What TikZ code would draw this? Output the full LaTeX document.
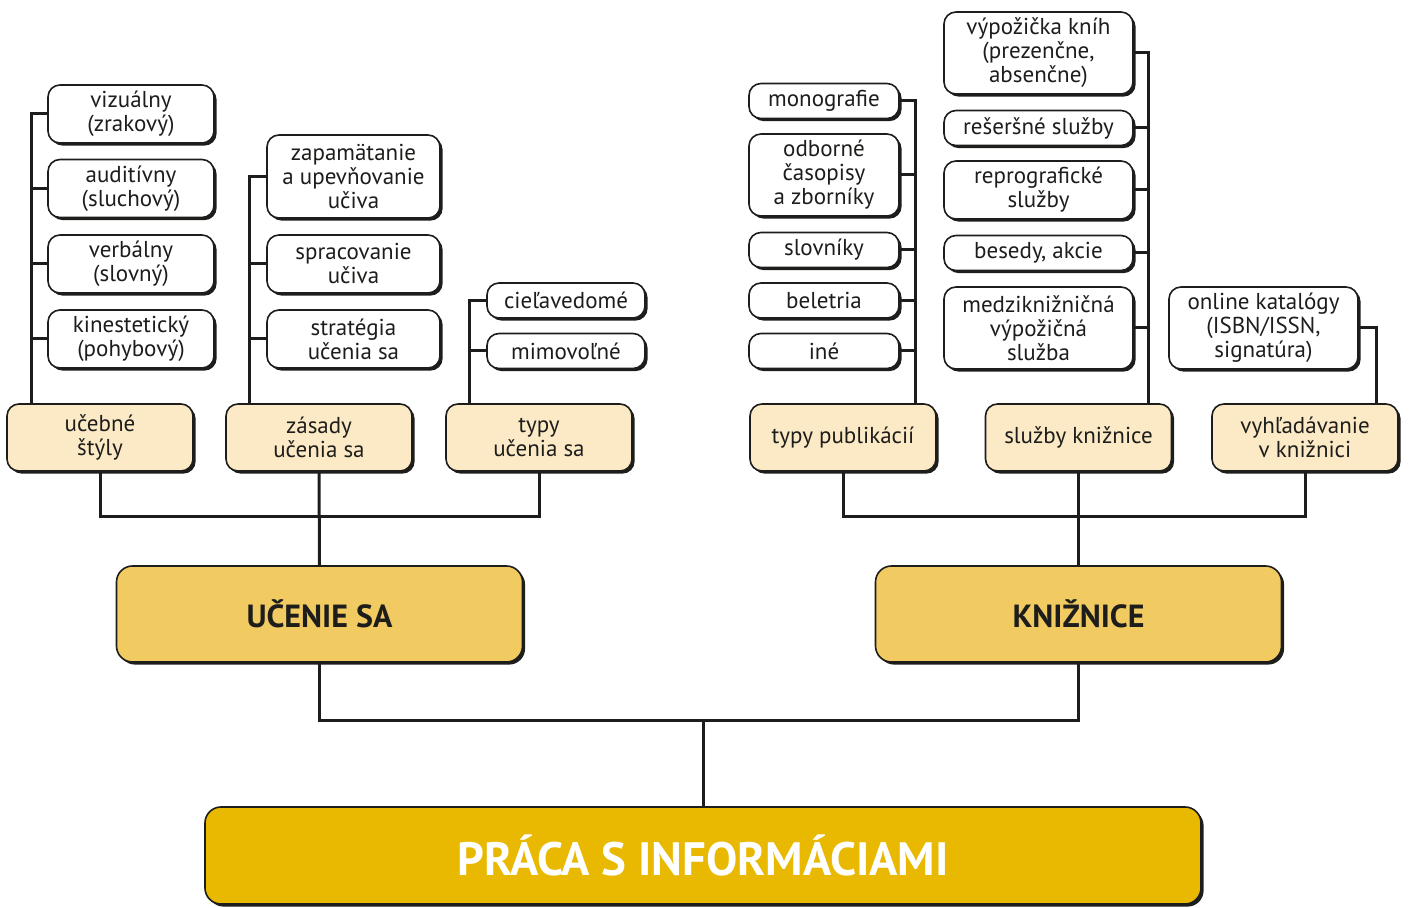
\documentclass[tikz,border=0pt]{standalone}
\usepackage{fontspec}
\setmainfont{PT Sans}
\usetikzlibrary{%
  shadows,% drop shadow
  positioning,%
  calc%
}
\definecolor{txt}{HTML}{1D1D1B}
\definecolor{cream}{HTML}{FCEAC6}
\definecolor{gold}{HTML}{F1CB62}
\definecolor{amber}{HTML}{E9B800}

\begin{document}
\begin{tikzpicture}[
  x=0.5pt, y=-0.5pt,
  font=\fontsize{11.5}{12}\selectfont,
  text=txt,
  line width=1.5pt,
  box/.style={draw=txt, line width=0.8pt, rounded corners=6pt, align=center,
    inner sep=1pt,
    drop shadow={shadow xshift=1.3pt, shadow yshift=-1.3pt, fill=txt, opacity=1}},
  leaf/.style={box, fill=white},
  cat/.style={box, fill=cream, minimum width=93pt, minimum height=33.5pt},
  main/.style={box, fill=gold, rounded corners=8pt, minimum width=203pt,
    minimum height=48pt, font=\fontsize{16}{18}\selectfont\bfseries},
  root/.style={box, fill=amber, rounded corners=8pt, minimum width=498pt,
    minimum height=48.5pt, text=white, font=\fontsize{23.4}{26}\selectfont\bfseries},
  link/.style={draw=txt, line width=1.5pt},
]
\useasboundingbox (0,0) rectangle (1410,908);

% learning styles
\node[leaf, minimum width=83pt, minimum height=29pt] (viz) at (131,114) {vizuálny\\(zrakový)};
\node[leaf, minimum width=83pt, minimum height=29pt] (aud) at (131,188.5) {auditívny\\(sluchový)};
\node[leaf, minimum width=83pt, minimum height=29pt] (verb) at (131,264) {verbálny\\(slovný)};
\node[leaf, minimum width=83pt, minimum height=29pt] (kin) at (131,339) {kinestetický\\(pohybový)};

% principles
\node[leaf, minimum width=86.5pt, minimum height=41.5pt] (zap) at (353.5,176.5) {zapamätanie\\a upevňovanie\\učiva};
\node[leaf, minimum width=86.5pt, minimum height=29pt] (spr) at (353.5,264) {spracovanie\\učiva};
\node[leaf, minimum width=86.5pt, minimum height=29pt] (strat) at (353.5,339) {stratégia\\učenia sa};

% types of learning
\node[leaf, minimum width=79pt, minimum height=17.5pt] (ciel) at (566,300.5) {cieľavedomé};
\node[leaf, minimum width=79pt, minimum height=17.5pt] (mimo) at (566,351) {mimovoľné};

% publications
\node[leaf, minimum width=75pt, minimum height=17.5pt] (mono) at (824,101) {monografie};
\node[leaf, minimum width=75pt, minimum height=41pt] (odb) at (824,175) {odborné\\časopisy\\a zborníky};
\node[leaf, minimum width=75pt, minimum height=17.5pt] (slov) at (824,250) {slovníky};
\node[leaf, minimum width=75pt, minimum height=17.5pt] (bel) at (824,300.5) {beletria};
\node[leaf, minimum width=75pt, minimum height=17.5pt] (ine) at (824,351) {iné};

% library services
\node[leaf, minimum width=94.5pt, minimum height=41pt] (vyp) at (1038.5,53) {výpožička kníh\\(prezenčne,\\absenčne)};
\node[leaf, minimum width=94.5pt, minimum height=17.5pt] (res) at (1038.5,128) {rešeršné služby};
\node[leaf, minimum width=94.5pt, minimum height=29pt] (repro) at (1038.5,190) {reprografické\\služby};
\node[leaf, minimum width=94.5pt, minimum height=17.5pt] (bes) at (1038.5,253) {besedy, akcie};
\node[leaf, minimum width=94.5pt, minimum height=41pt] (med) at (1038.5,328) {medziknižničná\\výpožičná\\služba};

% searching
\node[leaf, minimum width=94.5pt, minimum height=41pt] (online) at (1263.5,328) {online katalógy\\(ISBN/ISSN,\\signatúra)};

% categories
\node[cat] (ucebne) at (100,437.5) {učebné\\štýly};
\node[cat] (zasady) at (319,437.5) {zásady\\učenia sa};
\node[cat] (typy) at (539,437.5) {typy\\učenia sa};
\node[cat] (typpub) at (843,437.5) {typy publikácií};
\node[cat] (sluzby) at (1078.5,437.5) {služby knižnice};
\node[cat] (vyhl) at (1305,437.5) {vyhľadávanie\\v knižnici};

\node[main] (ucenie) at (319.5,614) {UČENIE SA};
\node[main] (kniz) at (1078.5,614) {KNIŽNICE};
\node[root] (praca) at (703,855.5) {PRÁCA S INFORMÁCIAMI};

% trunks
\coordinate (stytr) at (31,0);
\coordinate (zastr) at (249,0);
\coordinate (typtr) at (469,0);
\coordinate (pubtr) at (915,0);
\coordinate (slutr) at (1148,0);
\coordinate (vyhtr) at (1376,0);

\draw[link] (viz.west) -| (stytr |- ucebne.north);
\foreach \n in {aud,verb,kin} {
  \draw[link] (\n.west) -- (\n.west -| stytr);
}
\draw[link] (zap.west) -| (zastr |- zasady.north);
\foreach \n in {spr,strat} {
  \draw[link] (\n.west) -- (\n.west -| zastr);
}
\draw[link] (ciel.west) -| (typtr |- typy.north);
\draw[link] (mimo.west) -- (mimo.west -| typtr);

\draw[link] (mono.east) -| (pubtr |- typpub.north);
\foreach \n in {odb,slov,bel,ine} {
  \draw[link] (\n.east) -- (\n.east -| pubtr);
}
\draw[link] (vyp.east) -| (slutr |- sluzby.north);
\foreach \n in {res,repro,bes,med} {
  \draw[link] (\n.east) -- (\n.east -| slutr);
}
\draw[link] (online.east) -| (vyhtr |- vyhl.north);

% joins
\coordinate (ljoin) at (319,517);
\coordinate (rjoin) at (1078.5,517);
\coordinate (bjoin) at (703,721);
\draw[link] (ucebne.south) |- (ljoin) -| (typy.south);
\draw[link] (zasady.south) -- (ucenie.north);
\draw[link] (typpub.south) |- (rjoin) -| (vyhl.south);
\draw[link] (sluzby.south) -- (kniz.north);
\draw[link] (ucenie.south) |- (bjoin) -| (kniz.south);
\draw[link] (bjoin) -- (praca.north);
\end{tikzpicture}
\end{document}
